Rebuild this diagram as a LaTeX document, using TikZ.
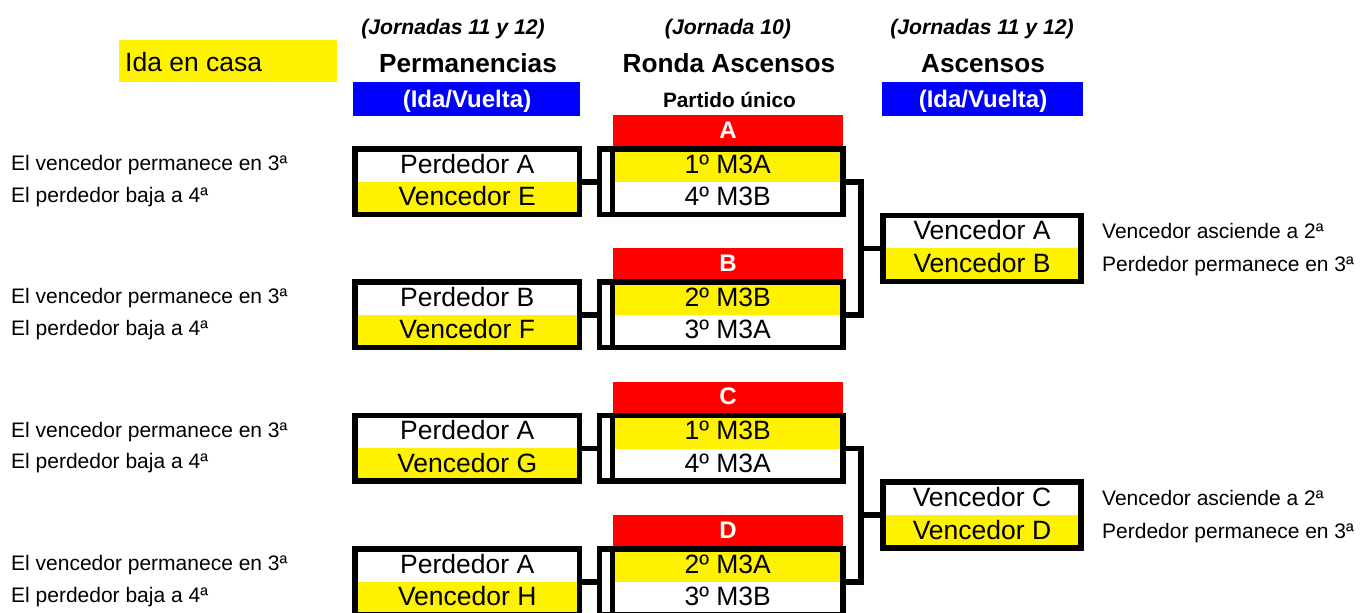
\documentclass[tikz,border=0pt]{standalone}
\usepackage{fontspec}
\setmainfont{Liberation Sans}
\newcommand\FBig{\fontsize{26.5}{30}\selectfont}
\newcommand\FHead{\fontsize{26.2}{30}\selectfont\bfseries}
\newcommand\FIta{\fontsize{21.2}{25}\selectfont\bfseries\itshape}
\newcommand\FLab{\fontsize{21}{25}\selectfont}
\newcommand\FSub{\fontsize{24}{28}\selectfont\bfseries}
\newcommand\FPart{\fontsize{20.8}{25}\selectfont\bfseries}
\begin{document}
\begin{tikzpicture}[x=1pt,y=-1pt,
  box/.style={draw, line width=5.5pt, inner sep=0pt, outer sep=0pt, minimum height=65.5pt},
  abox/.style={draw, line width=5.5pt, inner sep=0pt, outer sep=0pt, minimum height=66pt, minimum width=198pt},
  row/.style={inner sep=0pt, outer sep=0pt, minimum height=33pt, text height=19pt, text depth=4pt, font=\FBig},
  yrow/.style={row, fill=yellow},
  lab/.style={inner sep=0pt, font=\FLab, anchor=base west},
  ita/.style={inner sep=0pt, font=\FIta, anchor=base},
  head/.style={inner sep=0pt, font=\FHead, anchor=base},
  sub/.style={inner sep=0pt, font=\FSub, text=white, anchor=base},
  letter/.style={inner sep=0pt, font=\FSub, text=white, anchor=base},
  bluebar/.style={fill=blue, inner sep=0pt, minimum height=34pt},
  redbar/.style={fill=red, inner sep=0pt, minimum width=230pt, minimum height=31pt},
  conn/.style={line width=5.5pt, line join=miter}
]
\useasboundingbox (0,0) rectangle (1360,613);

% ---- headers ----
\node[fill=yellow, inner sep=0pt, minimum width=218pt, minimum height=42.5pt] (ida) at (228,60.75) {};
\node[inner sep=0pt, font=\FBig, anchor=base west] (idat) at (125,71.7) {Ida en casa};

\node[ita] (j1) at (453,34) {(Jornadas 11 y 12)};
\node[ita] (j2) at (728,34) {(Jornada 10)};
\node[ita] (j3) at (982,34) {(Jornadas 11 y 12)};

\node[head] (h1) at (468,72.5) {Permanencias};
\node[head] (h2) at (729,72.5) {Ronda Ascensos};
\node[head] (h3) at (983,72.5) {Ascensos};

\node[bluebar, minimum width=227pt] (b1) at (466.5,99) {};
\node[sub] (b1t) at (467,107.5) {(Ida/Vuelta)};
\node[bluebar, minimum width=201pt] (b3) at (982.5,99) {};
\node[sub] (b3t) at (983,107.5) {(Ida/Vuelta)};
\node[inner sep=0pt, font=\FPart, anchor=base] (part) at (729.5,107) {Partido único};

% ---- groups ----
\foreach \k/\T/\pa/\pb/\ra/\rb/\L in {
  1/149/Perdedor A/Vencedor E/1º M3A/4º M3B/A,
  2/282/Perdedor B/Vencedor F/2º M3B/3º M3A/B,
  3/415.5/Perdedor A/Vencedor G/1º M3B/4º M3A/C,
  4/549/Perdedor A/Vencedor H/2º M3A/3º M3B/D}{
  \node[lab] (l\k-a) at (11,\T+21.7) {El vencedor permanece en 3ª};
  \node[lab] (l\k-b) at (11,\T+53) {El perdedor baja a 4ª};
  \node[row, minimum width=224.5pt] (p\k-a) at (467.25,\T+16.5) {\pa};
  \node[yrow, minimum width=224.5pt] (p\k-b) at (467.25,\T+49.25) {\pb};
  \node[box, minimum width=224.5pt] (p\k) at (467.25,\T+32.75) {};
  \node[redbar] (red\k) at (728,\T-18.5) {};
  \node[letter] (red\k-t) at (728,\T-11) {\L};
  \node[yrow, minimum width=230.5pt] (r\k-a) at (727.75,\T+16.5) {\ra};
  \node[row, minimum width=230.5pt] (r\k-b) at (727.75,\T+49.25) {\rb};
  \node[box, minimum width=243.5pt] (r\k) at (721.25,\T+32.75) {};
  \node[box, minimum width=230.5pt] (ri\k) at (727.75,\T+32.75) {};
  \draw[conn] (p\k.east) -- (r\k.west);
}

% ---- ascensos ----
\foreach \k/\M/\va/\vb in {1/248.25/Vencedor A/Vencedor B, 2/515/Vencedor C/Vencedor D}{
  \node[row, minimum width=198pt] (a\k-a) at (982,\M-16.5) {\va};
  \node[yrow, minimum width=198pt] (a\k-b) at (982,\M+16.5) {\vb};
  \node[abox] (a\k) at (982,\M) {};
  \node[lab] (ra\k-a) at (1102,\M-9.5) {Vencedor asciende a 2ª};
  \node[lab] (ra\k-b) at (1102,\M+23) {Perdedor permanece en 3ª};
}

\coordinate (m1) at (861,248.25);
\coordinate (m2) at (861,515);
\draw[conn] (r1.east) -| (m1) |- (r2.east);
\draw[conn] (m1) -- (a1.west);
\draw[conn] (r3.east) -| (m2) |- (r4.east);
\draw[conn] (m2) -- (a2.west);
\end{tikzpicture}
\end{document}
